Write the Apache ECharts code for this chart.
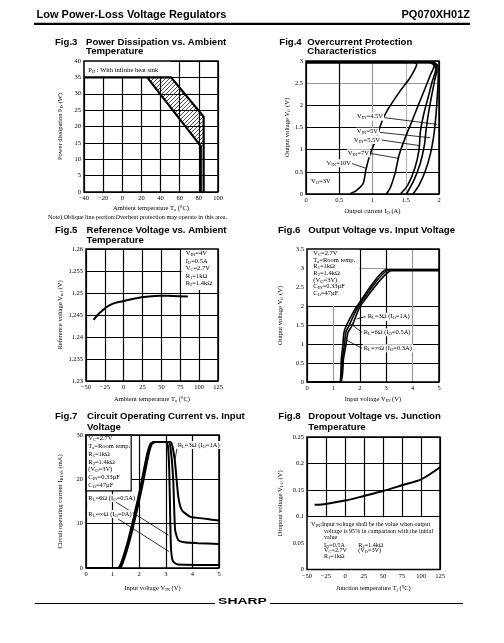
<!DOCTYPE html>
<html><head><meta charset="utf-8">
<script src="https://cdn.jsdelivr.net/npm/echarts@6/dist/echarts.min.js"></script>
<style>html,body{margin:0;padding:0;background:#fff}#c{width:504px;height:643px}</style>
</head><body><div id="c"></div>
<script>
// ================= DATA =================
// Fig.3 Power dissipation vs ambient temperature
const f3Upper = [[-40,35],[51,35],[85,23],[85,0]];
const f3Lower = [[26,35],[82,14],[82,0]];
const f3Hatch = [[26,35],[51,35],[85,23],[85,13.5],[82,14]];
const f3XTicks = [-40,100,20], f3YTicks = [0,40,5];
// Fig.4 Overcurrent protection (x: Io A, y: Vo V)
const f4_45V = [[0,2.97],[1.9,2.97],[1.97,2.92],[1.99,2.8],[1.985,2.5],[1.97,2.1],[1.95,1.7],[1.92,1.3],[1.87,0.9],[1.79,0.5],[1.7,0.2],[1.61,0]];
const f4_5V  = [[0,2.97],[1.88,2.97],[1.95,2.92],[1.97,2.8],[1.94,2.6],[1.9,2.3],[1.85,1.9],[1.81,1.5],[1.78,1.1],[1.72,0.7],[1.62,0.3],[1.51,0]];
const f4_55V = [[0,2.97],[1.86,2.97],[1.93,2.92],[1.95,2.8],[1.9,2.55],[1.84,2.2],[1.77,1.8],[1.72,1.4],[1.7,1.0],[1.64,0.6],[1.53,0.2],[1.42,0]];
const f4_7V  = [[0,2.97],[1.84,2.97],[1.91,2.93],[1.925,2.88],[1.88,2.72],[1.79,2.38],[1.69,2.01],[1.59,1.63],[1.49,1.26],[1.40,0.88],[1.34,0.47],[1.27,0.15],[1.21,0]];
const f4_10V = [[0,2.97],[1.62,2.97],[1.665,2.93],[1.645,2.84],[1.56,2.61],[1.41,2.31],[1.24,1.93],[1.14,1.63],[1.06,1.26],[0.96,0.88],[0.9,0.54],[0.86,0.24],[0.76,0.08],[0.66,0]];
const f4Leaders = [
  [[1.188,1.72],[1.975,1.57]],
  [[1.113,1.39],[1.865,1.27]],
  [[1.138,1.218],[1.714,1.09]],
  [[0.962,0.918],[1.388,0.805]],
  [[0.687,0.69],[0.902,0.58]]
];
// Fig.5 Reference voltage vs ambient temperature
const f5Curve = [[-40,1.2439],[-31,1.2456],[-18,1.2473],[0,1.2482],[22,1.249],[48,1.2494],[66,1.2493],[85,1.2492]];
// Fig.6 Output voltage vs input voltage
const f6Inf = [[0,0],[1.22,0],[1.3,0.6],[1.36,1.0],[1.4,1.3],[1.5,1.5],[1.9,2.0],[2.99,2.95],[5,2.95]];
const f6R6  = [[0,0],[1.25,0],[1.34,0.6],[1.42,1.0],[1.47,1.3],[1.6,1.5],[1.95,2.0],[3.08,2.94],[5,2.94]];
const f6R3  = [[0,0],[1.28,0],[1.38,0.6],[1.48,1.0],[1.55,1.3],[1.72,1.5],[2.02,2.0],[3.2,2.93],[5,2.93]];
const f6Leaders = [
  [[1.88,1.66],[2.22,1.72]],
  [[1.63,1.54],[2.08,1.31]],
  [[1.5,1.1],[2.08,0.89]]
];
// Fig.7 Circuit operating current vs input voltage
const f7Inf = [[0,0],[1.2,0],[1.3,0.8],[1.54,5.3],[1.79,11.3],[2.04,18],[2.29,25.5],[2.42,28],[2.55,28.4],[3.0,28.4],[3.08,27.5],[3.13,22],[3.17,10],[3.2,4],[3.27,1.5],[3.45,0.8],[5,0.7]];
const f7R6  = [[0,0],[1.23,0],[1.33,0.8],[1.57,5.3],[1.82,11.3],[2.07,18],[2.32,25.5],[2.45,28],[2.58,28.4],[3.1,28.4],[3.18,27],[3.28,19.8],[3.35,8.6],[3.47,6.3],[3.7,5.8],[4.2,5.6],[5,5.4]];
const f7R3  = [[0,0],[1.26,0],[1.36,0.8],[1.6,5.3],[1.85,11.3],[2.1,18],[2.35,25.5],[2.48,28],[2.6,28.4],[3.18,28.4],[3.26,27.2],[3.35,23.6],[3.47,16.1],[3.6,13.1],[3.91,11.6],[4.5,11.1],[5,10.7]];
const f7Leaders = [
  [[3.34,24.2],[3.42,27.0]],
  [[1.09,15.0],[3.1,7.4]],
  [[1.21,11.05],[3.12,3.7]]
];
// Fig.8 Dropout voltage vs junction temperature
const f8Curve = [[-40,0.122],[-25,0.1237],[0,0.130],[25,0.1388],[50,0.148],[75,0.159],[100,0.170],[125,0.193]];

// ================= STYLE / LAYOUT =================
const SERIF = 'Liberation Serif', SANS = 'Liberation Sans';
const FS = 6.5, SUB = 4.6, K = '#000', G1 = '#9a9a9a', G2 = '#b8b8b8', NONE = 'rgba(0,0,0,0)';
const grids = [
  {left:84, top:61, width:134, height:131},
  {left:306, top:61, width:133, height:133},
  {left:86, top:249, width:132, height:132},
  {left:307, top:249, width:132, height:133},
  {left:86, top:435, width:133, height:133},
  {left:307, top:437, width:133, height:132.5}
];
const richE = {s:{fontSize:SUB, fontFamily:SERIF, color:K, padding:[3,0,0,0]}};
const richZ = {s:{fontSize:SUB, fontFamily:SERIF, fill:K, padding:[3,0,0,0]}};
const minus = v => String(v).replace('-', '\u2212');

function xA(gi, t, name, gap, colors){
  return {gridIndex:gi, type:'value', min:t[0], max:t[1], interval:t[2],
    axisLine:{show:false}, axisTick:{show:false},
    axisLabel:{fontFamily:SERIF, fontSize:FS, color:K, margin:3, formatter:minus},
    splitLine:{show:true, lineStyle:{color:colors||K, width:1.2}},
    name, nameLocation:'middle', nameGap:gap,
    nameTextStyle:{fontFamily:SERIF, fontSize:FS, color:K, rich:richE}};
}
function yA(gi, t, name, gap, colors, fmt){
  return {gridIndex:gi, type:'value', min:t[0], max:t[1], interval:t[2],
    axisLine:{show:false}, axisTick:{show:false},
    axisLabel:{fontFamily:SERIF, fontSize:FS, color:K, margin:3, formatter:fmt||minus},
    splitLine:{show:true, lineStyle:{color:colors||K, width:1.2}},
    name, nameLocation:'middle', nameGap:gap,
    nameTextStyle:{fontFamily:SERIF, fontSize:FS, color:K, rich:richE}};
}
function ln(gi, data, w, smooth, extra){
  return Object.assign({type:'line', xAxisIndex:gi, yAxisIndex:gi, data, symbol:'none', showSymbol:false,
    smooth:smooth||0, silent:true, animation:false, z:3, lineStyle:{color:K, width:w}}, extra||{});
}
function box(x1,y1,x2,y2,border){
  return {silent:true, label:{show:false}, itemStyle:{color:'#fff', borderColor:border?K:NONE, borderWidth:border?1.2:0},
    data:[[{coord:[x1,y1]},{coord:[x2,y2]}]]};
}
function txt(x,y,text,o){
  return {type:'text', x, y, z:100, silent:true,
    style:Object.assign({text, fontFamily:SERIF, fontSize:FS, fill:K, align:'left', verticalAlign:'middle', rich:richZ}, o||{})};
}
function title(x,y,text){ return txt(x,y,text,{fontFamily:SANS, fontWeight:'bold', fontSize:9.6}); }
function hline(x1,x2,y,w){ return {type:'line', z:100, silent:true, shape:{x1,y1:y,x2,y2:y}, style:{stroke:K, lineWidth:w}}; }

// hatch pattern
const pc = document.createElement('canvas'); pc.width = 4; pc.height = 4;
const pg = pc.getContext('2d'); pg.strokeStyle = '#222'; pg.lineWidth = 0.8;
pg.beginPath(); pg.moveTo(0,4); pg.lineTo(4,0); pg.moveTo(-1,1); pg.lineTo(1,-1); pg.moveTo(3,5); pg.lineTo(5,3); pg.stroke();
const hatch = {type:'pattern', image:pc, repeat:'repeat'};

const series = [];
// Fig.3
series.push(ln(0, f3Upper, 2.2, 0, {markArea:box(-40,40,51,35.3)}));
series.push(ln(0, f3Lower, 2.2));
series.push({type:'custom', xAxisIndex:0, yAxisIndex:0, data:f3Hatch, silent:true, animation:false, z:2,
  renderItem:(p, api) => {
    if (p.dataIndex !== 0) return;
    return {type:'polygon', shape:{points:f3Hatch.map(q => api.coord(q))}, style:{fill:hatch, stroke:null}};
  }});
// Fig.4
[f4_45V, f4_5V, f4_55V, f4_7V, f4_10V].forEach(d => series.push(ln(1, d, 1.6, 0.25)));
f4Leaders.forEach(d => series.push(ln(1, d, 0.8)));
// Fig.5
series.push(ln(2, f5Curve, 2, 0.4, {markArea:box(76.5,1.26,125,1.2507)}));
// Fig.6
[f6Inf, f6R6, f6R3].forEach((d,i) => series.push(ln(3, d, 1.6, 0.15, i===0?{markArea:box(0,3.5,1.985,2.015)}:{})));
f6Leaders.forEach(d => series.push(ln(3, d, 0.8)));
// Fig.7
[f7Inf, f7R6, f7R3].forEach((d,i) => series.push(ln(4, d, 2, 0.2, i===0?{markArea:box(0,30,1.7,17.4,true)}:{})));
f7Leaders.forEach(d => series.push(ln(4, d, 0.8)));
// Fig.8
series.push(ln(5, f8Curve, 2, 0.3, {markArea:box(-50,0.0985,125,0)}));

const xAxis = [
  xA(0, f3XTicks, 'Ambient temperature T{s|a} (°C)', 12.5),
  xA(1, [0,2,0.5], 'Output current I{s|O} (A)', 13, [K,K,G1,G2,K]),
  xA(2, [-50,125,25], 'Ambient temperature T{s|a} (°C)', 14.5),
  xA(3, [0,5,1], 'Input voltage V{s|IN} (V)', 13, [K,G1,K,K,G1,K]),
  xA(4, [0,5,1], 'Input voltage V{s|IN} (V)', 16),
  xA(5, [-50,125,25], 'Junction temperature T{s|j} (°C)', 15)
];
const yAxis = [
  yA(0, f3YTicks, 'Power dissipation P{s|D} (W)', 20),
  yA(1, [0,3,0.5], 'Output voltage V{s|O} (V)', 13, [K,K,K,K,K,G1,K]),
  yA(2, [1.23,1.26,0.005], 'Reference voltage V{s|ref} (V)', 21.5, null, v => v.toFixed(3).replace(/0+$/,'')),
  yA(3, [0,3.5,0.5], 'Output voltage V{s|O} (V)', 22.5, [K,K,K,K,K,NONE,G1,K]),
  yA(4, [0,30,10], 'Circuit operating current I{s|BIAS} (mA)', 21.5),
  yA(5, [0,0.25,0.05], 'Dropout voltage V{s|I-O} (V)', 22.5)
];

const graphic = [];
// header / footer
graphic.push(txt(36.5, 15, 'Low Power-Loss Voltage Regulators', {fontFamily:SANS, fontWeight:'bold', fontSize:11}));
graphic.push(txt(470, 15, 'PQ070XH01Z', {fontFamily:SANS, fontWeight:'bold', fontSize:11, align:'right'}));
graphic.push(hline(34, 470, 23.8, 2.3));
graphic.push(hline(35, 215, 603.5, 1));
graphic.push(hline(270, 463, 603.5, 1));
graphic.push(Object.assign(txt(242.5, 602, 'SHARP', {fontFamily:SANS, fontWeight:'bold', fontSize:9, align:'center'}), {scaleX:1.55}));
// titles
graphic.push(title(55, 42, 'Fig.3'), title(86, 42, 'Power Dissipation vs. Ambient'), title(86, 51.5, 'Temperature'));
graphic.push(title(279.3, 42, 'Fig.4'), title(307.3, 42, 'Overcurrent Protection'), title(307.3, 51.5, 'Characteristics'));
graphic.push(title(55, 230, 'Fig.5'), title(86.5, 230, 'Reference Voltage vs. Ambient'), title(86.5, 240.5, 'Temperature'));
graphic.push(title(278, 230, 'Fig.6'), title(308.3, 230, 'Output Voltage vs. Input Voltage'));
graphic.push(title(55, 416.7, 'Fig.7'), title(87, 416.7, 'Circuit Operating Current vs. Input'), title(87, 427.3, 'Voltage'));
graphic.push(title(278.3, 416.7, 'Fig.8'), title(308.3, 416.7, 'Dropout Voltage vs. Junction'), title(308.3, 427.3, 'Temperature'));
// plot borders
grids.forEach(g => graphic.push({type:'rect', z:99, silent:true, shape:{x:g.left, y:g.top, width:g.width, height:g.height}, style:{fill:null, stroke:K, lineWidth:1.5}}));
// Fig.3 texts
graphic.push(txt(88.3, 70.7, 'P{s|D} : With infinite heat sink'));
graphic.push(txt(48, 217, 'Note) Oblique line portion:Overheat protection may operate in this area.', {fontSize:6.2}));
// Fig.4 texts
const wb = {backgroundColor:'#fff', padding:[0,1,0,1]};
graphic.push(txt(384, 116.7, 'V{s|IN}=4.5V', Object.assign({align:'right'}, wb)));
graphic.push(txt(379, 131.7, 'V{s|IN}=5V', Object.assign({align:'right'}, wb)));
graphic.push(txt(381, 140, 'V{s|IN}=5.5V', Object.assign({align:'right'}, wb)));
graphic.push(txt(370, 153.3, 'V{s|IN}=7V', Object.assign({align:'right'}, wb)));
graphic.push(txt(352, 163.3, 'V{s|IN}=10V', Object.assign({align:'right'}, wb)));
graphic.push(txt(311, 181.7, 'V{s|O}=3V'));
// Fig.5 texts
['V{s|IN}=4V','I{s|O}=0.5A','V{s|C}=2.7V','R{s|1}=1kΩ','R{s|2}=1.4kΩ'].forEach((t,i) => graphic.push(txt(185.7, 253.3 + i*7.6, t)));
// Fig.6 texts
['V{s|C}=2.7V','T{s|a}=Room temp.','R{s|1}=1kΩ','R{s|2}=1.4kΩ','(V{s|O}=3V)','C{s|IN}=0.33µF','C{s|O}=47µF'].forEach((t,i) => graphic.push(txt(313.3, 253.3 + i*6.67, t)));
graphic.push(txt(366.7, 316.7, 'R{s|L}=3Ω (I{s|O}=1A)', wb));
graphic.push(txt(362.7, 332.3, 'R{s|L}=6Ω (I{s|O}=0.5A)', wb));
graphic.push(txt(362.7, 348.3, 'R{s|L}=∞Ω (I{s|O}=0.3A)', wb));
// Fig.7 texts
['V{s|C}=2.7V','T{s|a}=Room temp.','R{s|1}=1kΩ','R{s|2}=1.4kΩ','(V{s|O}=3V)','C{s|IN}=0.33µF','C{s|O}=47µF'].forEach((t,i) => graphic.push(txt(88.3, 438.5 + i*7.8, t)));
graphic.push(txt(176.7, 445, 'R{s|L}=3Ω (I{s|O}=1A)', wb));
graphic.push(txt(87.3, 498.3, 'R{s|L}=6Ω (I{s|O}=0.5A)', wb));
graphic.push(txt(87.3, 514, 'R{s|L}=∞Ω (I{s|O}=0A)', wb));
// Fig.8 texts
const f8s = {fontSize:6.1};
graphic.push(txt(311, 524.5, 'V{s|IN}:Input voltage shall be the value when output', f8s));
graphic.push(txt(324, 531, 'voltage is 95% in camparison with the initial', f8s));
graphic.push(txt(324, 537, 'value', f8s));
graphic.push(txt(324, 545.5, 'I{s|O}=0.5A', f8s), txt(358.3, 545.5, 'R{s|2}=1.4kΩ', f8s));
graphic.push(txt(324, 550.7, 'V{s|C}=2.7V', f8s), txt(358.3, 550.7, '(V{s|O}=3V)', f8s));
graphic.push(txt(324, 556, 'R{s|1}=1kΩ', f8s));

const chart = echarts.init(document.getElementById('c'), null, {renderer:'canvas'});
chart.setOption({animation:false, backgroundColor:'#fff', grid:grids, xAxis, yAxis, series, graphic});
</script></body></html>
